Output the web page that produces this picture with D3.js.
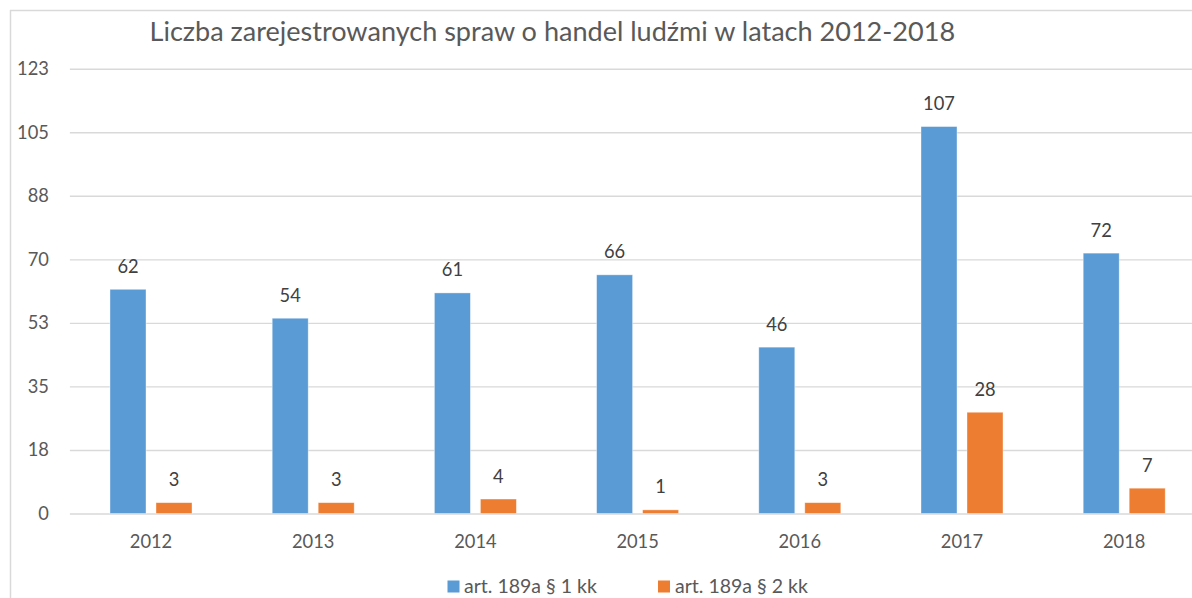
<!DOCTYPE html>
<html>
<head>
<meta charset="utf-8">
<script src="https://cdn.jsdelivr.net/npm/d3@7"></script>
<style>
  html, body { margin: 0; padding: 0; background: #fff; overflow: hidden; }
  svg { display: block; font-family: Lato, "Open Sans", sans-serif; }
</style>
</head>
<body>
<svg id="chart" width="1192" height="598"></svg>
<script>
// ---- data ----
const title = "Liczba zarejestrowanych spraw o handel ludźmi w latach 2012-2018";
const categories = ["2012", "2013", "2014", "2015", "2016", "2017", "2018"];
const seriesNames = ["art. 189a § 1 kk", "art. 189a § 2 kk"];
const series1 = [62, 54, 61, 66, 46, 107, 72];
const series2 = [3, 3, 4, 1, 3, 28, 7];
const yMax = 123;
const tickValues = [0, 17.571, 35.143, 52.714, 70.286, 87.857, 105.429, 123];
const tickLabels = ["0", "18", "35", "53", "70", "88", "105", "123"];
const colors = ["#5B9BD5", "#ED7D31"];

// ---- layout ----
const W = 1192, H = 598;
const FS = 18.3;
const svg = d3.select("#chart");

// chart frame (border)
svg.append("line").attr("x1", 10).attr("x2", W + 5).attr("y1", 10.5).attr("y2", 10.5)
  .attr("stroke", "#d9d9d9").attr("stroke-width", 1.5);
svg.append("line").attr("x1", 10.5).attr("x2", 10.5).attr("y1", 10).attr("y2", H + 5)
  .attr("stroke", "#d9d9d9").attr("stroke-width", 1.5);

const plotLeft = 69.9, step = 162.2;
const x0 = d3.scaleBand().domain(categories)
  .range([plotLeft, plotLeft + step * categories.length]).padding(0);
const x1 = d3.scaleBand().domain([0, 1]).range([40.1, 122.1]).paddingInner(2 - 82 / 46).paddingOuter(0);
const y = d3.scaleLinear().domain([0, yMax]).range([513.5, 68.7]);

// y axis with gridlines
const yAxis = svg.append("g").attr("transform", `translate(${plotLeft},0)`)
  .call(d3.axisLeft(y).tickValues(tickValues)
    .tickFormat((d, i) => tickLabels[i])
    .tickSize(-(W + 10 - plotLeft)).tickPadding(21));
yAxis.select(".domain").remove();
yAxis.selectAll(".tick line").attr("stroke", "#d9d9d9").attr("stroke-width", 1.4);
yAxis.selectAll(".tick text").attr("fill", "#595959").attr("font-size", FS)
  .attr("font-family", "Lato, 'Open Sans', sans-serif");

// x axis
const xAxis = svg.append("g").attr("transform", `translate(0,${y(0)})`)
  .call(d3.axisBottom(x0).tickSize(0).tickPadding(21.5));
xAxis.select(".domain").remove();
xAxis.selectAll(".tick text").attr("fill", "#595959").attr("font-size", FS)
  .attr("font-family", "Lato, 'Open Sans', sans-serif");

// bars
const allSeries = [series1, series2];
const groups = svg.append("g").selectAll("g").data(categories).join("g")
  .attr("transform", d => `translate(${x0(d)},0)`);

groups.selectAll("rect").data((d, i) => allSeries.map((s, k) => ({ k, v: s[i] }))).join("rect")
  .attr("x", d => x1(d.k))
  .attr("width", x1.bandwidth())
  .attr("y", d => y(d.v))
  .attr("height", d => y(0) - y(d.v))
  .attr("fill", d => colors[d.k])
  .attr("stroke", "#fff").attr("stroke-opacity", 0.5).attr("stroke-width", 0.75);

groups.selectAll("text").data((d, i) => allSeries.map((s, k) => ({ k, v: s[i] }))).join("text")
  .attr("x", d => x1(d.k) + x1.bandwidth() / 2)
  .attr("y", d => y(d.v) - 16.5)
  .attr("text-anchor", "middle")
  .attr("fill", "#404040")
  .attr("font-size", FS)
  .text(d => d.v);

// title
const t = svg.append("text")
  .attr("x", 149.5).attr("y", 41)
  .attr("fill", "#595959")
  .attr("font-size", 24)
  .text(title);
const tw = t.node().getComputedTextLength();
t.attr("font-size", 24 * 806 / tw);

// legend
const legendItems = [{ x: 447.5, textX: 464 }, { x: 658, textX: 675 }];
const lg = svg.append("g").selectAll("g").data(seriesNames).join("g");
lg.append("rect")
  .attr("x", (d, i) => legendItems[i].x).attr("y", 580.5)
  .attr("width", 12).attr("height", 12)
  .attr("fill", (d, i) => colors[i]);
const lt = lg.append("text")
  .attr("x", (d, i) => legendItems[i].textX).attr("y", 593)
  .attr("fill", "#595959").attr("font-size", 18)
  .text(d => d);
const lw = lt.nodes()[0].getComputedTextLength();
lt.attr("font-size", 18 * 133 / lw);
</script>
</body>
</html>
